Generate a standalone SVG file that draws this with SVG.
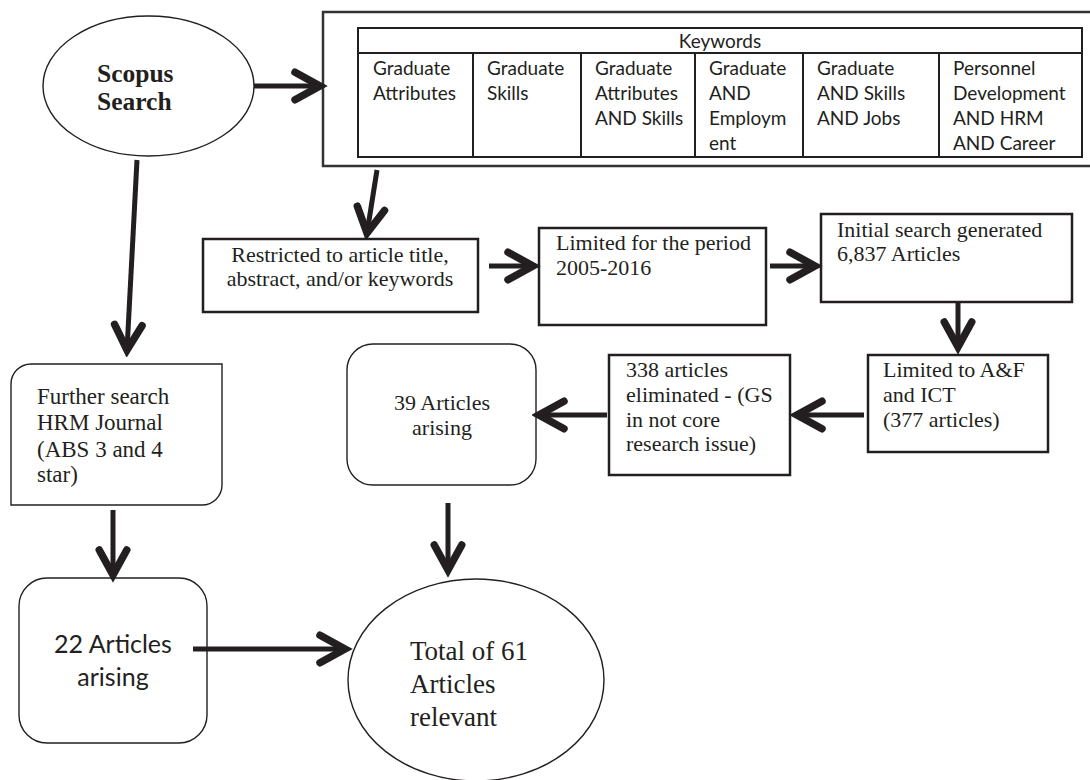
<svg xmlns="http://www.w3.org/2000/svg" width="1090" height="780" viewBox="0 0 1090 780">
<defs>
<marker id="chev" markerUnits="userSpaceOnUse" markerWidth="40" markerHeight="40" viewBox="-26 -16 32 32" refX="0" refY="0" orient="auto">
<path d="M -20,-11 L 0,0 L -20,11" fill="none" stroke="#231f20" stroke-width="6" stroke-linecap="round" stroke-linejoin="miter"/>
</marker>
<style>
.serif{font-family:"Liberation Serif","Times New Roman",serif;fill:#231f20;}
.sans{font-family:Lato,"Liberation Sans",sans-serif;fill:#231f20;}
.box{fill:#fff;stroke:#231f20;stroke-width:2.5;}
.thin{fill:#fff;stroke:#231f20;stroke-width:1.4;}
.conn{stroke:#231f20;stroke-width:5;fill:none;marker-end:url(#chev);}
.cell{font-size:19px;}
</style>
</defs>
<rect width="1090" height="780" fill="#fff"/>

<g id="scopus">
<ellipse class="thin" cx="148.5" cy="86" rx="105.5" ry="70"/>
<text class="serif" x="97" y="82" font-size="25.5" font-weight="bold">Scopus</text>
<text class="serif" x="97" y="110" font-size="25.5" font-weight="bold">Search</text>
</g>

<g id="keywords">
<rect x="323" y="12" width="775" height="154" fill="#fff" stroke="#333" stroke-width="2.5"/>
<rect x="358" y="28" width="724" height="129" fill="#fff" stroke="#231f20" stroke-width="2"/>
<line x1="358" y1="53" x2="1082" y2="53" stroke="#231f20" stroke-width="2"/>
<line x1="473" y1="53" x2="473" y2="157" stroke="#231f20" stroke-width="2"/>
<line x1="581" y1="53" x2="581" y2="157" stroke="#231f20" stroke-width="2"/>
<line x1="695" y1="53" x2="695" y2="157" stroke="#231f20" stroke-width="2"/>
<line x1="803" y1="53" x2="803" y2="157" stroke="#231f20" stroke-width="2"/>
<line x1="939" y1="53" x2="939" y2="157" stroke="#231f20" stroke-width="2"/>
<text class="sans cell" x="720" y="48" text-anchor="middle">Keywords</text>
<text class="sans cell" x="373" y="75">Graduate</text>
<text class="sans cell" x="373" y="100">Attributes</text>
<text class="sans cell" x="487" y="75">Graduate</text>
<text class="sans cell" x="487" y="100">Skills</text>
<text class="sans cell" x="595" y="75">Graduate</text>
<text class="sans cell" x="595" y="100">Attributes</text>
<text class="sans cell" x="595" y="125">AND Skills</text>
<text class="sans cell" x="709" y="75">Graduate</text>
<text class="sans cell" x="709" y="100">AND</text>
<text class="sans cell" x="709" y="125">Employm</text>
<text class="sans cell" x="709" y="150">ent</text>
<text class="sans cell" x="817" y="75">Graduate</text>
<text class="sans cell" x="817" y="100">AND Skills</text>
<text class="sans cell" x="817" y="125">AND Jobs</text>
<text class="sans cell" x="953" y="75">Personnel</text>
<text class="sans cell" x="953" y="100">Development</text>
<text class="sans cell" x="953" y="125">AND HRM</text>
<text class="sans cell" x="953" y="150">AND Career</text>
</g>

<g id="restricted">
<rect class="box" x="203" y="239" width="275" height="73"/>
<text class="serif" x="340" y="262" font-size="22" text-anchor="middle">Restricted to article title,</text>
<text class="serif" x="340" y="286" font-size="22" text-anchor="middle">abstract, and/or keywords</text>
</g>

<g id="period">
<rect class="box" x="539" y="228" width="227" height="97"/>
<text class="serif" x="556" y="250" font-size="22">Limited for the period</text>
<text class="serif" x="556" y="275" font-size="22">2005-2016</text>
</g>

<g id="initial">
<rect class="box" x="821" y="214" width="251" height="88"/>
<text class="serif" x="837" y="237" font-size="22">Initial search generated</text>
<text class="serif" x="837" y="261" font-size="22">6,837 Articles</text>
</g>

<g id="af-ict">
<rect class="box" x="868" y="355" width="180" height="97"/>
<text class="serif" x="883" y="377" font-size="22">Limited to A&amp;F</text>
<text class="serif" x="883" y="402" font-size="22">and ICT</text>
<text class="serif" x="883" y="427" font-size="22">(377 articles)</text>
</g>

<g id="eliminated">
<rect class="box" x="609" y="355" width="181" height="120"/>
<text class="serif" x="626" y="377" font-size="22">338 articles</text>
<text class="serif" x="626" y="402" font-size="22">eliminated - (GS</text>
<text class="serif" x="626" y="427" font-size="22">in not core</text>
<text class="serif" x="626" y="451" font-size="22">research issue)</text>
</g>

<g id="arising39">
<rect class="thin" x="347" y="344" width="189" height="141" rx="26" ry="26"/>
<text class="serif" x="442" y="410" font-size="22" text-anchor="middle">39 Articles</text>
<text class="serif" x="442" y="435" font-size="22" text-anchor="middle">arising</text>
</g>

<g id="further">
<path class="thin" d="M 31,364 H 222 V 485 A 20 20 0 0 1 202 505 H 11 V 384 A 20 20 0 0 1 31 364 Z"/>
<text class="serif" x="37" y="404" font-size="23">Further search</text>
<text class="serif" x="37" y="430" font-size="23">HRM Journal</text>
<text class="serif" x="37" y="457" font-size="23">(ABS 3 and 4</text>
<text class="serif" x="37" y="482" font-size="23">star)</text>
</g>

<g id="arising22">
<rect class="thin" x="19" y="578" width="188" height="165" rx="28" ry="28"/>
<text class="sans" x="113" y="653" font-size="25" text-anchor="middle">22 Articles</text>
<text class="sans" x="113" y="686" font-size="25" text-anchor="middle">arising</text>
</g>

<g id="total">
<ellipse class="thin" cx="476" cy="680" rx="128" ry="101"/>
<text class="serif" x="410" y="660" font-size="27">Total of 61</text>
<text class="serif" x="410" y="693" font-size="27">Articles</text>
<text class="serif" x="410" y="726" font-size="27">relevant</text>
</g>

<g id="connectors">
<line class="conn" x1="254" y1="86" x2="320" y2="86"/>
<line class="conn" x1="377" y1="170" x2="367" y2="233"/>
<line class="conn" x1="489" y1="266" x2="533" y2="266"/>
<line class="conn" x1="770" y1="266" x2="815" y2="266"/>
<line class="conn" x1="958" y1="302" x2="958" y2="347"/>
<line class="conn" x1="864" y1="415" x2="797" y2="415"/>
<line class="conn" x1="607" y1="415" x2="539" y2="415"/>
<line class="conn" x1="137" y1="160" x2="127" y2="350"/>
<line class="conn" x1="113" y1="510" x2="113" y2="575"/>
<line class="conn" x1="448" y1="503" x2="448" y2="570"/>
<line class="conn" x1="193" y1="649" x2="345" y2="649"/>
</g>
</svg>
